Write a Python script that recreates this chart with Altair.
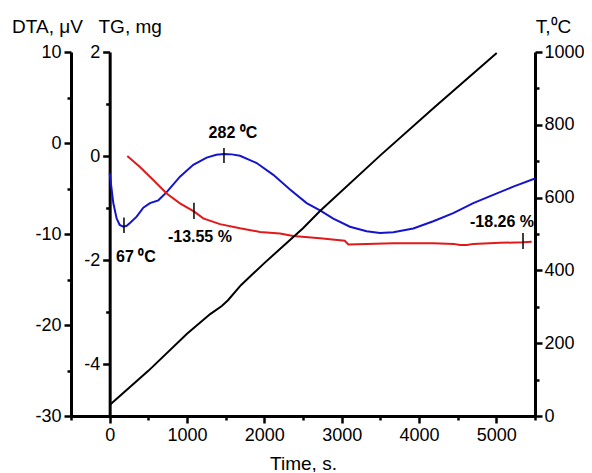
import altair as alt
import pandas as pd

FONT = "Liberation Sans, Arial, Helvetica, sans-serif"

# ---- DTA curve (blue), uV ----
dta_time = [0, 47, 90, 130, 176, 220, 262, 349, 435, 521, 629, 737, 909, 1081, 1254, 1380, 1478,
            1580, 1685, 1901, 2116, 2332, 2547, 2720, 2892, 3107, 3323, 3495, 3667, 3926, 4185,
            4443, 4702, 4960, 5219, 5500]
dta_value = [-3.3, -6.6, -8.3, -9.0, -9.2, -9.1, -8.8, -8.1, -7.1, -6.6, -6.3, -5.4, -3.7, -2.4,
             -1.6, -1.3, -1.2, -1.25, -1.4, -2.2, -3.5, -5.1, -6.6, -7.4, -8.3, -9.2, -9.7, -9.9,
             -9.8, -9.4, -8.6, -7.7, -6.6, -5.7, -4.8, -3.9]

# ---- TG curve (red), mg ----
tg_time = [228, 392, 564, 737, 909, 1094, 1210, 1426, 1685, 1944, 2202, 2374, 2720, 2978, 3040,
           3086, 3323, 3667, 4185, 4450, 4530, 4620, 4702, 5047, 5349, 5457]
tg_value = [0.0, -0.21, -0.46, -0.72, -0.91, -1.07, -1.2, -1.31, -1.39, -1.46, -1.49, -1.54,
            -1.58, -1.62, -1.63, -1.70, -1.69, -1.68, -1.68, -1.69, -1.71, -1.71, -1.69, -1.67,
            -1.66, -1.65]

# ---- Temperature (black), C ----
t_time = [0, 500, 1000, 1300, 1450, 1530, 1700, 2000, 2500, 2720, 3500, 4200, 5005]
t_value = [30, 124, 226, 280, 302, 318, 360, 420, 516, 563, 716, 848, 997]

# ---- annotations ----
dta_ann_text = ["67 \u2070C", "282 \u2070C"]
dta_ann_t = [340, 1594]
dta_ann_v = [-12.5, 1.1]
dta_tick_t = [185, 1478]
dta_tick_v1 = [-8.2, -0.55]
dta_tick_v2 = [-9.9, -2.2]

tg_ann_text = ["-13.55 %", "-18.26 %"]
tg_ann_t = [1167, 5074]
tg_ann_v = [-1.56, -1.27]
tg_tick_t = [1090, 5345]
tg_tick_v1 = [-0.90, -1.48]
tg_tick_v2 = [-1.21, -1.79]

dta_df = pd.DataFrame({"t": dta_time, "v": dta_value})
tg_df = pd.DataFrame({"t": tg_time, "v": tg_value})
temp_df = pd.DataFrame({"t": t_time, "v": t_value})
dta_ann = pd.DataFrame({"t": dta_ann_t, "v": dta_ann_v, "label": dta_ann_text})
dta_tk = pd.DataFrame({"t": dta_tick_t, "v": dta_tick_v1, "v2": dta_tick_v2})
tg_ann = pd.DataFrame({"t": tg_ann_t, "v": tg_ann_v, "label": tg_ann_text})
tg_tk = pd.DataFrame({"t": tg_tick_t, "v": tg_tick_v1, "v2": tg_tick_v2})

common_axis = dict(
    grid=False, domainColor="black", domainWidth=3, tickColor="black", tickWidth=2.5,
    labelFont=FONT, labelFontSize=18, labelColor="black", labelOverlap=False, labelFlush=False,
    titleFont=FONT, titleFontSize=19, titleFontWeight="normal", titleColor="black",
    titleAngle=0, titleAlign="center", titleBaseline="middle",
)


def lab(step):
    return f"datum.value % {step} === 0 ? ('' + datum.value) : ''"


def tsize(step):
    return {"condition": {"test": f"datum.value % {step} === 0", "value": 7}, "value": 4}


x_axis = alt.Axis(
    values=list(range(-500, 5501, 500)), labelExpr=lab(1000), tickSize=tsize(1000),
    labelPadding=3, title="Time, s.", titleX=232, titleY=47, **common_axis,
)
X = alt.X("t:Q", scale=alt.Scale(domain=[-500, 5500], nice=False, zero=False), axis=x_axis)

dta_axis = alt.Axis(
    orient="left", values=list(range(-30, 11, 5)), labelExpr=lab(10), tickSize=tsize(10),
    labelPadding=3, title="DTA, \u03bcV", titleX=-24, titleY=-26, **common_axis,
)
tg_axis = alt.Axis(
    orient="left", offset=-38.67, values=list(range(-5, 3, 1)), labelExpr=lab(2),
    tickSize=tsize(2), labelPadding=3, title="TG, mg", titleX=20, titleY=-26, **common_axis,
)
t_axis = alt.Axis(
    orient="right", values=list(range(0, 1001, 100)), labelExpr=lab(200), tickSize=tsize(200),
    labelPadding=2, title="T,\u2070C", titleX=18, titleY=-26, **common_axis,
)

dta_scale = alt.Scale(domain=[-30, 10], nice=False, zero=False)
tg_scale = alt.Scale(domain=[-5, 2], nice=False, zero=False)
t_scale = alt.Scale(domain=[0, 1000], nice=False, zero=False)

text_style = dict(font=FONT, fontSize=16, fontWeight="bold", color="black",
                  align="center", baseline="middle")

dta_group = alt.layer(
    alt.Chart(dta_df).mark_line(color="#1414cc", strokeWidth=2).encode(
        x=X, y=alt.Y("v:Q", scale=dta_scale, axis=dta_axis)),
    alt.Chart(dta_tk).mark_rule(color="black", strokeWidth=1.5).encode(
        x=X, y=alt.Y("v:Q", scale=dta_scale, axis=dta_axis), y2="v2:Q"),
    alt.Chart(dta_ann).mark_text(**text_style).encode(
        x=X, y=alt.Y("v:Q", scale=dta_scale, axis=dta_axis), text="label:N"),
)

tg_group = alt.layer(
    alt.Chart(tg_df).mark_line(color="#e01a1a", strokeWidth=2).encode(
        x=X, y=alt.Y("v:Q", scale=tg_scale, axis=tg_axis)),
    alt.Chart(tg_tk).mark_rule(color="black", strokeWidth=1.5).encode(
        x=X, y=alt.Y("v:Q", scale=tg_scale, axis=tg_axis), y2="v2:Q"),
    alt.Chart(tg_ann).mark_text(**text_style).encode(
        x=X, y=alt.Y("v:Q", scale=tg_scale, axis=tg_axis), text="label:N"),
)

t_group = alt.Chart(temp_df).mark_line(color="black", strokeWidth=2).encode(
    x=X, y=alt.Y("v:Q", scale=t_scale, axis=t_axis))

chart = alt.layer(dta_group, tg_group, t_group).resolve_scale(
    y="independent"
).properties(
    width=464, height=364,
    autosize=alt.AutoSizeParams(type="none"),
    padding={"left": 63, "top": 44, "right": 49, "bottom": 56},
    background="white",
).configure_view(stroke=None)

chart.save("out.html", embed_options={"renderer": "svg", "actions": False})
